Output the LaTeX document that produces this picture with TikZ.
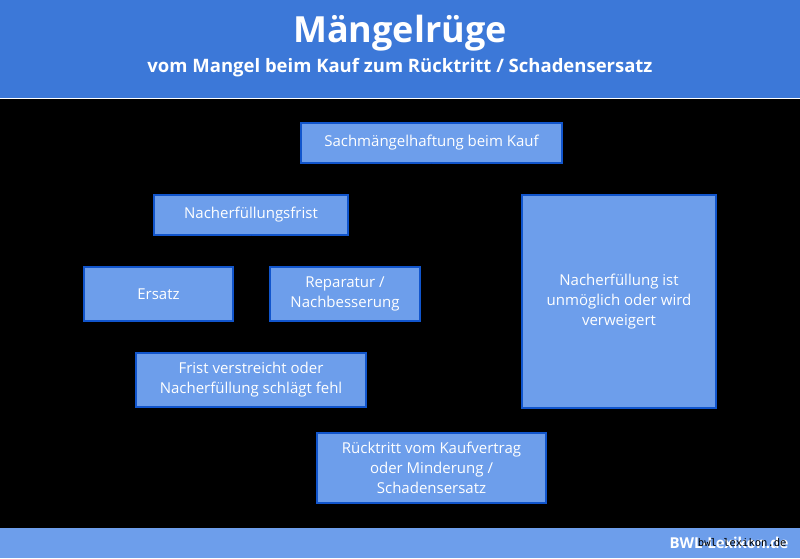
\documentclass[tikz,border=0pt]{standalone}
\usepackage{fontspec}
\setmainfont{Open Sans}
\setmonofont{DejaVu Sans Mono}
\definecolor{top}{HTML}{3C78D8}
\definecolor{boxf}{HTML}{6D9EEB}
\definecolor{boxd}{HTML}{1155CC}
\begin{document}
\begin{tikzpicture}[x=1pt,y=-1pt,
 box/.style={draw=boxd,line width=1.5pt,fill=boxf,text=white,font=\fontsize{15}{20}\selectfont,align=center,inner sep=0pt},
 con/.style={draw=black,line width=1pt}]
\fill[black] (0,0) rectangle (800,558);
\useasboundingbox (0,0) rectangle (800,558);
\fill[top] (0,0) rectangle (800,98);
\draw[white,line width=1pt] (0,98.5) -- (800,98.5);
\fill[boxf] (0,528) rectangle (800,558);
\node[white,font=\bfseries\fontsize{36}{40}\selectfont] (t) at (400,33) {Mängelrüge};
\node[white,font=\bfseries\fontsize{18.5}{20}\selectfont] (st) at (400,68) {vom Mangel beim Kauf zum Rücktritt / Schadensersatz};
\node[white,font=\bfseries\fontsize{15}{16}\selectfont,anchor=east] (bw) at (792,543) {BWL-Lexikon.de};
\node[black,font=\ttfamily\fontsize{10.5}{12}\selectfont,anchor=east] (bw2) at (790,543) {bwl-lexikon.de};
\node[box,minimum width=261,minimum height=40] (a) at (431.5,143) {Sachmängelhaftung beim Kauf};
\node[box,minimum width=194,minimum height=40] (b) at (251,215) {Nacherfüllungsfrist};
\node[box,minimum width=149,minimum height=54] (c) at (158.5,294) {Ersatz};
\node[box,minimum width=150,minimum height=54] (d) at (345,294) {Reparatur /\\Nachbesserung};
\node[box,minimum width=230,minimum height=54] (e) at (251,380) {Frist verstreicht oder\\Nacherfüllung schlägt fehl};
\node[box,minimum width=194,minimum height=213] (f) at (619,301.5) {Nacherfüllung ist\\unmöglich oder wird\\verweigert};
\node[box,minimum width=229,minimum height=70] (g) at (431.5,468) {Rücktritt vom Kaufvertrag\\oder Minderung /\\Schadensersatz};
\draw[con] (a.south) -- ++(0,16) -| (b.north);
\draw[con] (a.south) -- ++(0,16) -| (f.north);
\draw[con] (b.south) -- ++(0,16) -| (c.north);
\draw[con] (b.south) -- ++(0,16) -| (d.north);
\draw[con] (c.south) -- ++(0,16) -| (e.north);
\draw[con] (d.south) -- ++(0,16) -| (e.north);
\draw[con] (e.south) -- ++(0,13) -| (g.north);
\draw[con] (f.south) -- ++(0,12) -| (g.north);
\end{tikzpicture}
\end{document}
